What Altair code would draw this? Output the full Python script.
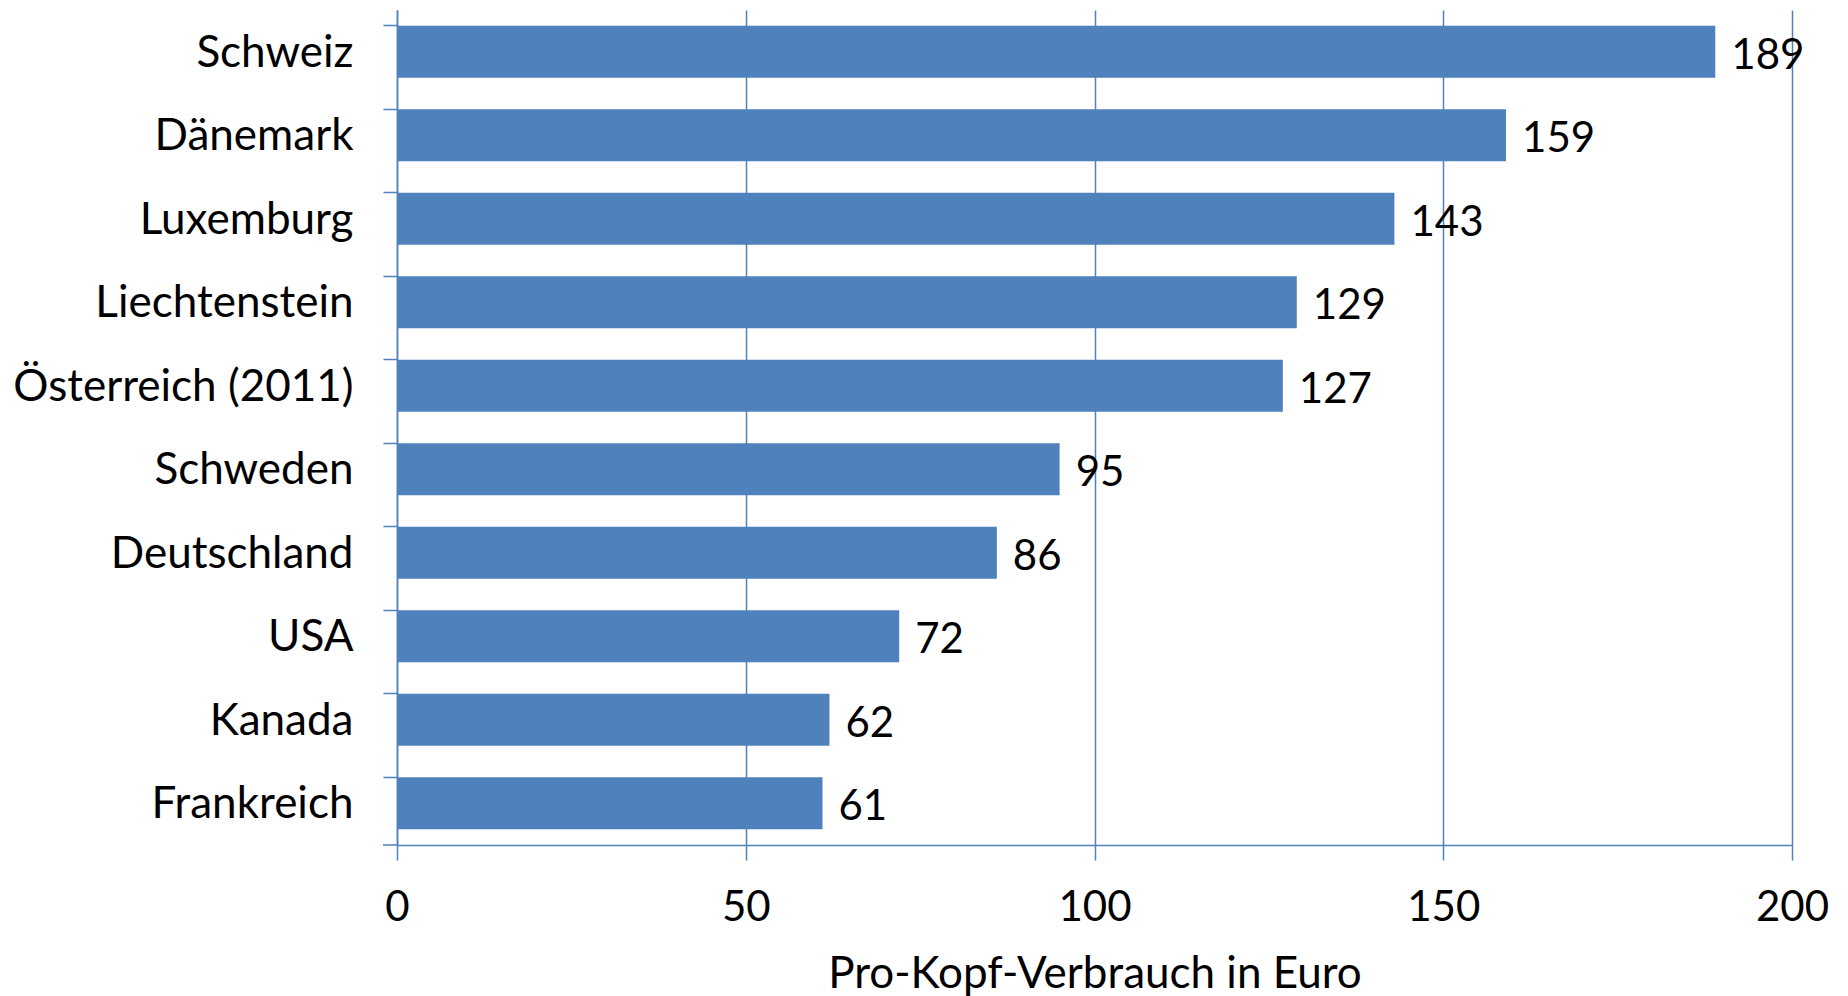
import altair as alt
import pandas as pd

countries = ["Schweiz", "Dänemark", "Luxemburg", "Liechtenstein", "Österreich (2011)",
             "Schweden", "Deutschland", "USA", "Kanada", "Frankreich"]
values = [189, 159, 143, 129, 127, 95, 86, 72, 62, 61]
x_ticks = [0, 50, 100, 150, 200]
x_title = "Pro-Kopf-Verbrauch in Euro"

df = pd.DataFrame({"Land": countries, "Wert": values})

BLUE = "#4F81BD"
LINE = "#4F81BD"
FONT = "Lato"
FS_NUM = 42
FS_TXT = 44
W, H = 1395, 835

x_enc = alt.X(
    "Wert:Q",
    scale=alt.Scale(domain=[0, 200], nice=False),
    axis=alt.Axis(
        values=x_ticks, title=x_title, grid=True, gridColor=LINE, gridWidth=1.5,
        domainColor=LINE, domainWidth=1.5, tickColor=LINE, tickWidth=1.5, tickSize=15,
        labelFont=FONT, labelFontSize=FS_NUM, labelColor="black", labelPadding=27,
        labelFlush=False, labelOverlap=False,
        titleFont=FONT, titleFontSize=FS_TXT, titleColor="black", titleFontWeight="normal",
        titlePadding=24,
    ),
)
y_enc = alt.Y(
    "Land:N",
    sort=countries,
    scale=alt.Scale(paddingInner=0.38, paddingOuter=0.19),
    axis=alt.Axis(
        title=None, bandPosition=0, domainColor=LINE, domainWidth=1.5,
        tickColor=LINE, tickWidth=1.5, tickSize=14, grid=False,
        labelFont=FONT, labelFontSize=FS_TXT, labelColor="black", labelPadding=30,
        labelLimit=0, labelOffset=2,
    ),
)

bars = alt.Chart(df).mark_bar(color=BLUE).encode(x=x_enc, y=y_enc)
labels = alt.Chart(df).mark_text(
    align="left", baseline="middle", dx=16, dy=4, font=FONT, fontSize=FS_NUM, color="black"
).encode(x=alt.X("Wert:Q"), y=alt.Y("Land:N", sort=countries), text=alt.Text("Wert:Q"))

bottom_tick = alt.Chart(pd.DataFrame({"a": [0]})).mark_rule(color=LINE, strokeWidth=1.5).encode(
    x=alt.value(-14), x2=alt.value(0), y=alt.value(H)
)

chart = alt.layer(bars, labels, bottom_tick).properties(
    width=W, height=H,
    padding={"left": 4, "top": 2, "right": 5, "bottom": 5},
).configure_view(stroke=None)

chart.save("out.html", embed_options={"renderer": "svg", "actions": False})
